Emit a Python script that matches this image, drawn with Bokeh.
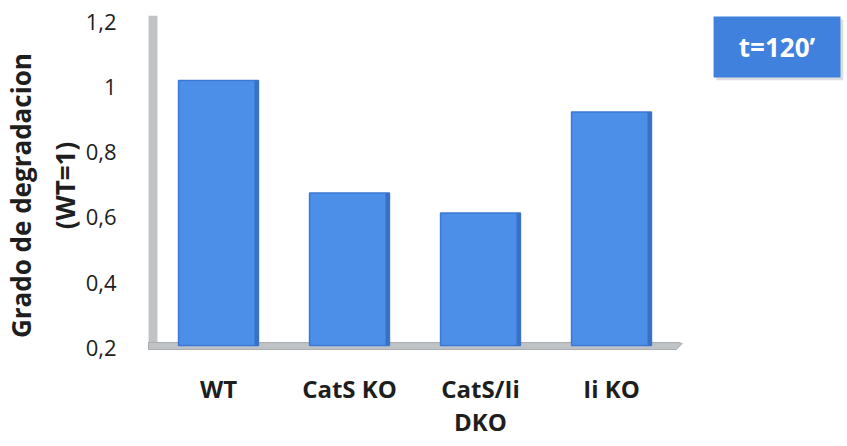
import numpy as np
from bokeh.plotting import figure
from bokeh.models import Range1d, LinearAxis, FixedTicker
from bokeh.core.properties import value
from bokeh.embed import file_html
from bokeh.resources import INLINE

# Degradation level relative to wild type at t=120'
categories = ["WT", "CatS KO", "CatS/Ii\nDKO", "Ii KO"]
degradation = [1.00, 0.66, 0.60, 0.905]
baseline = 0.2

ytick_values = [0.2, 0.4, 0.6, 0.8, 1.0, 1.2]
ytick_labels = ["0,2", "0,4", "0,6", "0,8", "1", "1,2"]

x_pos = np.arange(len(categories)) + 0.5

BAR_FILL = "#4b8fe8"
BAR_SIDE = "#3a70c4"
BAR_EDGE = "#3d78d2"
WALL = "#bfc3c6"
FONT = "Open Sans"

p = figure(
    width=847, height=446,
    x_range=Range1d(-0.0496, 5.3015),
    y_range=Range1d(0.1754, 1.2215),
    output_backend="svg", toolbar_location=None,
    min_border_left=146, min_border_right=0,
    min_border_top=15, min_border_bottom=91,
    x_axis_location=None, y_axis_location=None,
)
p.outline_line_color = None
p.grid.visible = False
p.background_fill_color = "white"

# bars sit slightly in front of the back wall (3-D depth offset)
p.extra_y_ranges = {"bars": Range1d(0.1698, 1.1962)}

# back wall and floor
p.quad(left=-0.034, right=0.034, bottom=0.1938, top=1.2215,
       fill_color=WALL, line_color=None)
p.patch(x=[-0.034, 4.015, 4.04, 3.995, -0.034],
        y=[0.2154, 0.2154, 0.2123, 0.1938, 0.1938],
        fill_color=WALL, line_color="#a9adb1", line_width=1)

# bars: front face plus a darker right side face
p.vbar(x=x_pos, width=0.61, bottom=baseline, top=degradation,
       fill_color=BAR_FILL, line_color=BAR_EDGE, line_width=1.5,
       y_range_name="bars")
p.vbar(x=x_pos + 0.29, width=0.03, bottom=baseline, top=degradation,
       fill_color=BAR_SIDE, line_color=None, y_range_name="bars")

# y axis: labels and two-line title
yaxis = LinearAxis(
    ticker=FixedTicker(ticks=ytick_values),
    major_label_overrides=dict(zip(ytick_values, ytick_labels)),
    axis_line_color=None, major_tick_line_color=None, minor_tick_line_color=None,
    major_label_text_font=FONT, major_label_text_font_size="22px",
    major_label_text_color="#1e1e1e", major_label_standoff=24,
    axis_label="Grado de degradacion\u00a0\u00a0\u00a0\n(WT=1)",
    axis_label_text_font=FONT, axis_label_text_font_size="26px",
    axis_label_text_font_style="bold", axis_label_text_color="#1e1e1e",
    axis_label_standoff=0,
)
p.add_layout(yaxis, "left")

# x axis: category names under each bar
xaxis = LinearAxis(
    ticker=FixedTicker(ticks=list(x_pos)),
    major_label_overrides=dict(zip([float(v) for v in x_pos], categories)),
    axis_line_color=None, major_tick_line_color=None, minor_tick_line_color=None,
    major_label_text_font=FONT, major_label_text_font_size="24px",
    major_label_text_font_style="bold", major_label_text_color="#1e1e1e",
    major_label_text_line_height=1.0,
    major_label_standoff=10,
)
p.add_layout(xaxis, "below")

# time stamp box
p.quad(left=4.30, right=5.27, bottom=1.022, top=1.209,
       fill_color="#9aa0a8", fill_alpha=0.35, line_color=None)
p.quad(left=4.279, right=5.248, bottom=1.031, top=1.2185,
       fill_color="#3f81dc", line_color=None)
p.text(x=[4.763], y=[1.1246], text=["t=120\u2019"],
       text_font=value(FONT), text_font_size="26px", text_font_style="bold",
       text_color="white", text_align="center", text_baseline="middle")

open("out.html", "w").write(file_html(p, INLINE))
